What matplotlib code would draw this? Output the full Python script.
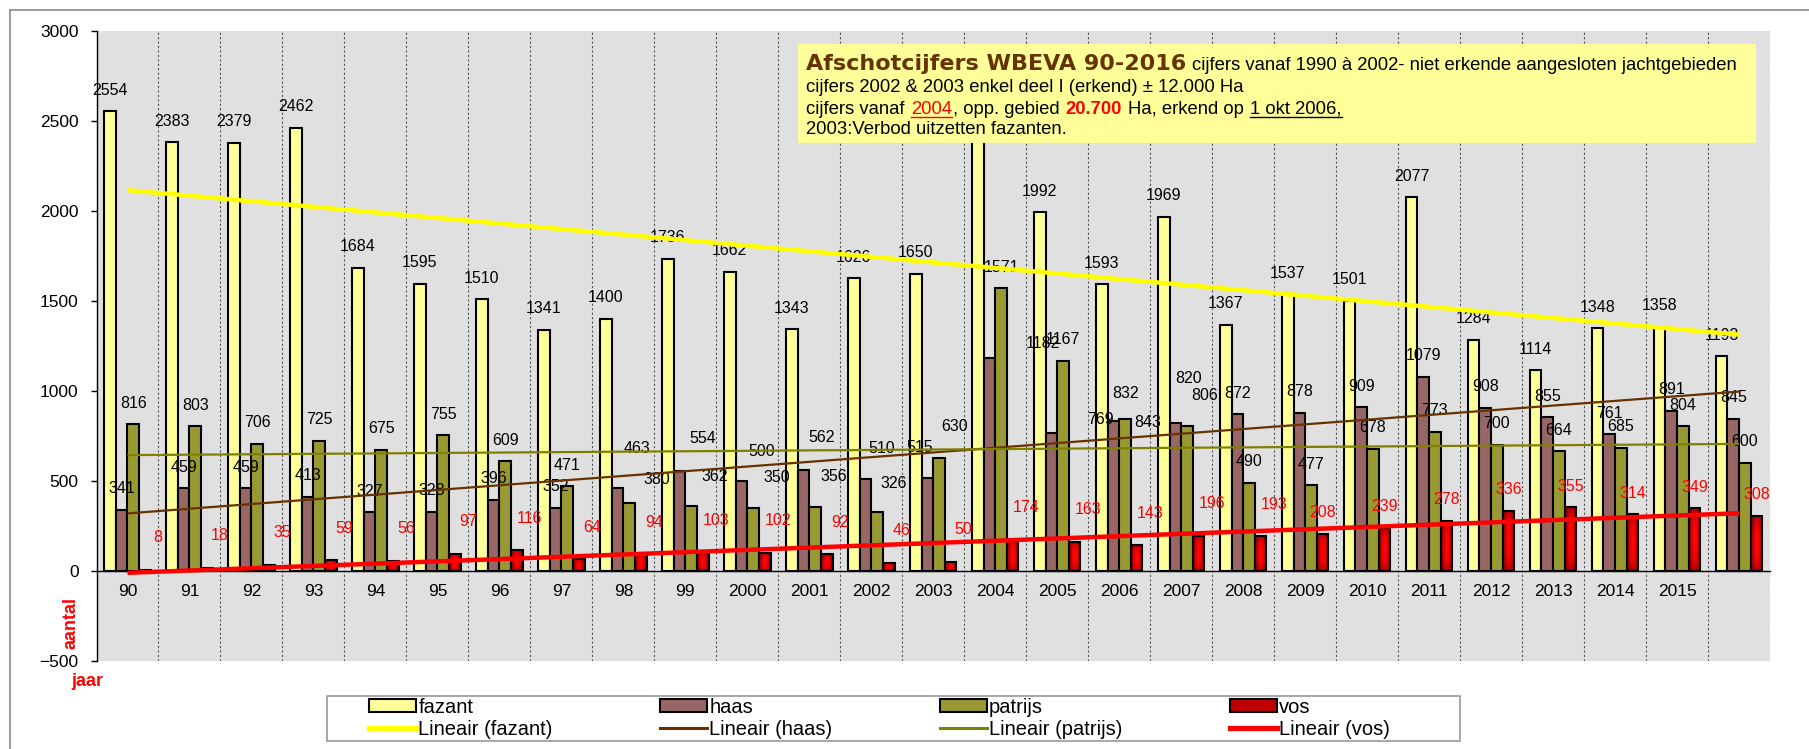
import numpy as np
import matplotlib
matplotlib.use('Agg')
import matplotlib.pyplot as plt
from matplotlib.patches import Rectangle, Patch
from matplotlib.lines import Line2D

plt.rcParams['font.family'] = ['Liberation Sans', 'DejaVu Sans']

# ---------------- data ----------------
years = list(range(1990, 2017))
tick_labels = ['90', '91', '92', '93', '94', '95', '96', '97', '98', '99',
               '2000', '2001', '2002', '2003', '2004', '2005', '2006', '2007',
               '2008', '2009', '2010', '2011', '2012', '2013', '2014', '2015', '']
fazant = [2554, 2383, 2379, 2462, 1684, 1595, 1510, 1341, 1400, 1736, 1662, 1343, 1626, 1650,
          2634, 1992, 1593, 1969, 1367, 1537, 1501, 2077, 1284, 1114, 1348, 1358, 1193]
haas = [341, 459, 459, 413, 327, 328, 396, 352, 463, 554, 500, 562, 510, 515,
        1182, 769, 832, 820, 872, 878, 909, 1079, 908, 855, 761, 891, 845]
patrijs = [816, 803, 706, 725, 675, 755, 609, 471, 380, 362, 350, 356, 326, 630,
           1571, 1167, 843, 806, 490, 477, 678, 773, 700, 664, 685, 804, 600]
vos = [8, 18, 35, 59, 56, 97, 116, 64, 94, 103, 102, 92, 46, 50,
       174, 163, 143, 196, 193, 208, 239, 278, 336, 355, 314, 349, 308]
series_names = ['fazant', 'haas', 'patrijs', 'vos']
trend_names = ['Lineair (fazant)', 'Lineair (haas)', 'Lineair (patrijs)', 'Lineair (vos)']

# ---------------- styling ----------------
W, H = 1809, 749
fig = plt.figure(figsize=(W / 100, H / 100), dpi=100)
fig.patch.set_facecolor('white')

def fx(px):
    return px / W

def fy(py):
    return 1 - py / H

ax = fig.add_axes([fx(96.5), 88 / H, (1770 - 96.5) / W, (661 - 31) / H])
ax.set_facecolor('#E0E0E0')

n = len(years)
x = np.arange(n)
bw = 0.1875
offs = [-1.5, -0.5, 0.5, 1.5]
fills = ['#FFFF99', '#996666', '#999933', 'none']
label_colors = ['black', 'black', 'black', '#FF0000']
trend_colors = ['#FFFF00', '#663300', '#808000', '#FF0000']
trend_lw = [3.2, 1.6, 1.6, 3.2]
data = [fazant, haas, patrijs, vos]

# manual label nudges (pixels) as in the original chart
nudges = {
    'haas': {1998: (19, 18), 1999: (23, 12), 2000: (20, 9), 2001: (18, 11), 2002: (16, 10),
             2003: (-8, 10), 2004: (54, -6), 2005: (49, -8), 2006: (12, 7), 2007: (13, 24)},
    'patrijs': {1998: (28, 2), 1999: (24, 8), 2000: (24, 10), 2001: (19, 9), 2002: (17, 8),
                2003: (16, 10), 2006: (23, -24), 2007: (18, 9)},
}

bar_groups = []
for name, vals, fc, off in zip(series_names, data, fills, offs):
    bars = ax.bar(x + off * bw, vals, width=bw, facecolor=fc, edgecolor='black',
                  linewidth=1.5, zorder=2.5 if name == 'vos' else 2)
    bar_groups.append(bars)

# gradient fill for vos bars
nx_, ny_ = 40, 60
U, V = np.meshgrid(np.linspace(-1, 1, nx_), np.linspace(-1, 1, ny_))
g = (1 - U ** 2) * (1 - 0.55 * np.abs(V) ** 3)
dark = np.array([0.42, 0.0, 0.0])
bright = np.array([1.0, 0.02, 0.02])
grad = dark[None, None, :] + (bright - dark)[None, None, :] * g[:, :, None]
for p in bar_groups[3].patches:
    x0, w, h = p.get_x(), p.get_width(), p.get_height()
    ax.imshow(grad, extent=(x0, x0 + w, 0, h), aspect='auto', zorder=2.2,
              interpolation='bilinear', origin='lower')

# data labels
for name, vals, off, lc in zip(series_names, data, offs, label_colors):
    for i, v in enumerate(vals):
        dx, dy = 0, 21
        if name in nudges and years[i] in nudges[name]:
            ndx, ndy = nudges[name][years[i]]
            dx += ndx
            dy += ndy
        if name == 'vos' and years[i] <= 2008:
            dx += 13
            dy += 11
        ax.annotate(str(v), (x[i] + off * bw, v), xytext=(dx, dy), textcoords='offset pixels',
                    ha='center', va='center', fontsize=11.5, color=lc, zorder=3,
                    annotation_clip=False)

# linear trend lines
for vals, c, lw in zip(data, trend_colors, trend_lw):
    coef = np.polyfit(x, vals, 1)
    xe = np.array([x[0], x[-1]])
    ax.plot(xe, np.polyval(coef, xe), color=c, lw=lw, zorder=4, solid_capstyle='butt')

ax.set_xlim(-0.5, n - 0.5)
ax.set_ylim(-500, 3000)
ax.set_yticks(np.arange(-500, 3001, 500))
ax.set_xticks(x)
ax.set_xticklabels(tick_labels)
ax.set_xticks(np.arange(-0.5, n, 1), minor=True)
ax.tick_params(axis='x', which='major', length=0, pad=9, labelsize=12.5)
ax.tick_params(axis='x', which='minor', length=0)
ax.tick_params(axis='y', direction='out', length=4.3, width=1, pad=8.5, labelsize=12.5)
ax.grid(axis='x', which='minor', color='#555555', linestyle=(0, (2, 2)), linewidth=0.8)
ax.grid(axis='y', visible=False)
ax.set_axisbelow(True)
for s in ['top', 'right']:
    ax.spines[s].set_visible(False)
ax.spines['bottom'].set_position(('data', 0))
ax.spines['bottom'].set_linewidth(1.0)
ax.spines['left'].set_linewidth(1.0)

# axis titles
fig.text(fx(70.5), fy(623), 'aantal', rotation=90, color='#FF0000', fontsize=13,
         fontweight='bold', ha='center', va='center')
fig.text(fx(87.5), fy(682), 'jaar', color='#FF0000', fontsize=13,
         fontweight='bold', ha='center', va='center')

# outer border (left and top)
fig.add_artist(Line2D([fx(10), fx(10)], [fy(10), fy(760)], color='#808080', lw=1.1,
                      transform=fig.transFigure))
fig.add_artist(Line2D([fx(10), fx(1820)], [fy(10), fy(10)], color='#808080', lw=1.1,
                      transform=fig.transFigure))

# ---------------- text box ----------------
fig.add_artist(Rectangle((fx(798), fy(143)), fx(1756) - fx(798), fy(44) - fy(143),
                         transform=fig.transFigure, facecolor='#FFFF99', edgecolor='none',
                         zorder=5))

renderer = fig.canvas.get_renderer()
norm = dict(fontsize=13.3, color='black', family=['Liberation Sans', 'DejaVu Sans'])


def space_width(kw):
    t1 = fig.text(0, 0, 'a a', **kw)
    t2 = fig.text(0, 0, 'aa', **kw)
    w = t1.get_window_extent(renderer).width - t2.get_window_extent(renderer).width
    t1.remove()
    t2.remove()
    return w


def runs(x_px, y_px, pieces):
    xcur = x_px
    for txt, kw, sp_before, underline in pieces:
        if sp_before:
            xcur += space_width(kw)
        t = fig.text(fx(xcur), fy(y_px), txt, ha='left', va='baseline', zorder=6, **kw)
        bb = t.get_window_extent(renderer)
        if underline:
            fig.add_artist(Line2D([fx(bb.x0), fx(bb.x1)], [fy(y_px + 2.5), fy(y_px + 2.5)],
                                  color=kw.get('color', 'black'), lw=1.0,
                                  transform=fig.transFigure, zorder=6))
        xcur = bb.x1 + 1


title_kw = dict(fontsize=16, color='#663300', family='DejaVu Sans', fontweight='bold')
red_kw = dict(norm, color='#FF0000')
redb_kw = dict(norm, color='#FF0000', fontweight='bold')

runs(806, 70, [('Afschotcijfers WBEVA 90-2016', title_kw, False, False),
               ('cijfers vanaf 1990 à 2002- niet erkende aangesloten jachtgebieden', norm, True, False)])
runs(806, 92, [('cijfers 2002 & 2003 enkel deel I (erkend) ± 12.000 Ha', norm, False, False)])
runs(806, 114, [('cijfers vanaf', norm, False, False),
                ('2004', red_kw, True, True),
                (', opp. gebied', norm, False, False),
                ('20.700', redb_kw, True, False),
                ('Ha, erkend op', norm, True, False),
                ('1 okt 2006,', norm, True, True)])
runs(806, 134, [('2003:Verbod uitzetten fazanten.', norm, False, False)])

# ---------------- legend ----------------
fig.add_artist(Rectangle((fx(327), fy(741)), fx(1460) - fx(327), fy(696) - fy(741),
                         transform=fig.transFigure, facecolor='white', edgecolor='#909090',
                         lw=1.1, zorder=1))
handles = []
labels = []
patch_fc = ['#FFFF99', '#996666', '#999933', '#C00000']
for i in range(4):
    handles.append(Patch(facecolor=patch_fc[i], edgecolor='black', linewidth=1.5))
    labels.append(series_names[i])
    handles.append(Line2D([], [], color=trend_colors[i], lw=trend_lw[i] + 0.6))
    labels.append(trend_names[i])

leg = fig.legend(handles, labels, ncol=4, loc='center', mode='expand',
                 bbox_to_anchor=(fx(369), fy(741), fx(1390) - fx(369), fy(696) - fy(741)),
                 bbox_transform=fig.transFigure, frameon=False, fontsize=14.5,
                 handlelength=2.35, handleheight=0.6, handletextpad=0.1,
                 labelspacing=0.15, borderpad=0, borderaxespad=0)
leg.set_zorder(2)

fig.savefig('out.png', dpi=100)
